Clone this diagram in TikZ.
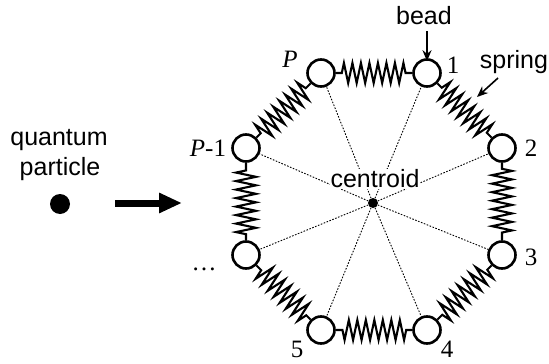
\documentclass[tikz,border=0pt]{standalone}
\usepackage{fontspec}
\setmainfont{Liberation Serif}
\setsansfont{Liberation Sans}
\usetikzlibrary{decorations.pathmorphing,arrows.meta}
\begin{document}
\begin{tikzpicture}[x=1pt,y=-1pt,
  bead/.style={circle,draw,line width=2.6pt,minimum size=27pt,inner sep=0pt,fill=white},
  spring/.style={line width=2.1pt,decorate,
    decoration={zigzag,segment length=8.5pt,amplitude=10pt,pre length=6pt,post length=6pt}},
  ray/.style={line width=0.9pt,dash pattern=on 1.6pt off 1.5pt},
  lab/.style={font=\fontsize{25}{30}\selectfont,inner sep=0pt},
  txt/.style={font=\sffamily\fontsize{25}{30}\selectfont,inner sep=0pt},
  pointer/.style={line width=1.6pt,-{Stealth[length=11pt,width=9pt]}}]
\useasboundingbox (0,0) rectangle (549,364);

% ring polymer: beads on a regular octagon
\node[bead] (b1) at (427,73) {};
\node[bead] (b2) at (502,148) {};
\node[bead] (b3) at (502,255) {};
\node[bead] (b4) at (427,330) {};
\node[bead] (b5) at (321,330) {};
\node[bead] (bd) at (246,255) {};
\node[bead] (bq) at (246,148) {};
\node[bead] (bp) at (321,73) {};

% centroid and rays to every bead
\node[circle,fill,minimum size=10pt,inner sep=0pt] (cen) at (373,203) {};
\foreach \b in {b1,b2,b3,b4,b5,bd,bq,bp}
  \draw[ray] (cen) -- (\b);
\node[txt,fill=white,inner sep=1pt] (ctext) at (375,179) {centroid};

% springs between neighbouring beads
\draw[spring] (bp) -- (b1);
\draw[spring] (b1) -- (b2);
\draw[spring] (b2) -- (b3);
\draw[spring] (b3) -- (b4);
\draw[spring] (b4) -- (b5);
\draw[spring] (b5) -- (bd);
\draw[spring] (bd) -- (bq);
\draw[spring] (bq) -- (bp);

% bead indices
\node[lab] (l1) at (453,65) {1};
\node[lab] (l2) at (531,148) {2};
\node[lab] (l3) at (531,257) {3};
\node[lab] (l4) at (447,349) {4};
\node[lab] (l5) at (297,349) {5};
\node[lab,anchor=base] (ld) at (204,270) {\ldots};
\node[lab] (lq) at (208,148) {\textit{P}-1};
\node[lab] (lp) at (290,59) {\textit{P}};

% annotations
\node[txt] (tbead) at (424,16) {bead};
\coordinate (bstart) at (427,31);
\draw[pointer] (bstart) -- ([yshift=-3pt]b1.north);
\node[txt,anchor=base] (tspring) at (514,68) {spring};
\coordinate (sstart) at (498,78);
\coordinate (stip) at (477,97);
\draw[pointer] (sstart) -- (stip);

% quantum particle mapped onto the ring
\node[txt,anchor=base] (tq1) at (59,145) {quantum};
\node[txt,anchor=base] (tq2) at (60,175) {particle};
\node[circle,fill,minimum size=20pt,inner sep=0pt] (qp) at (60,204) {};
\coordinate (a0) at (115,203);
\coordinate (a1) at (182,203);
\draw[line width=7pt,-{Triangle[length=23pt,width=19pt]}] (a0) -- (a1);
\end{tikzpicture}
\end{document}
